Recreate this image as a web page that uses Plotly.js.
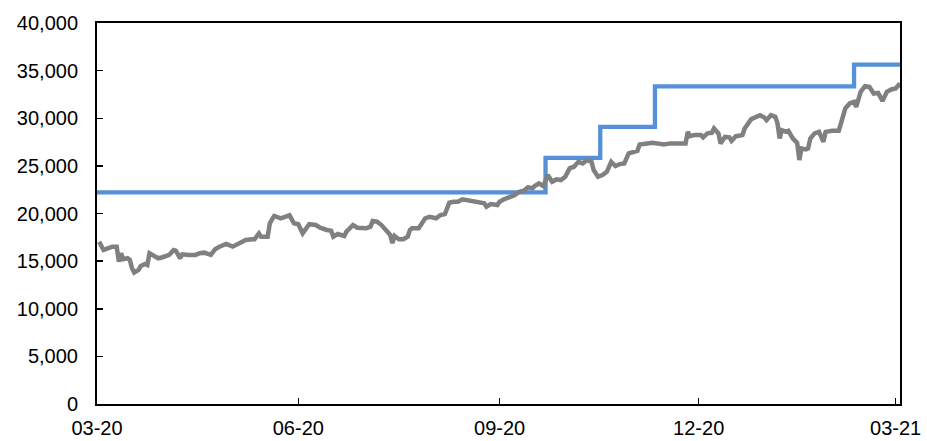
<!DOCTYPE html>
<html>
<head>
<meta charset="utf-8">
<script src="https://cdn.plot.ly/plotly-3.0.1.min.js"></script>
<style>
html,body{margin:0;padding:0;background:#fff;}
#chart{width:927px;height:441px;}
</style>
</head>
<body>
<div id="chart"></div>
<script>
// Grey series (daily level)
const greyDates = [
'2020-03-02','2020-03-04','2020-03-05','2020-03-08','2020-03-10','2020-03-11','2020-03-12','2020-03-13','2020-03-15','2020-03-16',
'2020-03-17','2020-03-18','2020-03-20','2020-03-21','2020-03-23','2020-03-24','2020-03-25','2020-03-27','2020-03-29','2020-03-31',
'2020-04-03','2020-04-05','2020-04-06','2020-04-08','2020-04-09','2020-04-12','2020-04-15','2020-04-17','2020-04-19','2020-04-22',
'2020-04-24','2020-04-26','2020-04-29','2020-05-02','2020-05-04','2020-05-06','2020-05-08','2020-05-11','2020-05-12','2020-05-14',
'2020-05-15','2020-05-18','2020-05-19','2020-05-20','2020-05-21','2020-05-24','2020-05-26','2020-05-28','2020-05-30','2020-06-01',
'2020-06-03','2020-06-04','2020-06-06','2020-06-09','2020-06-11','2020-06-14','2020-06-16','2020-06-17','2020-06-19','2020-06-22',
'2020-06-23','2020-06-26','2020-06-28','2020-07-02','2020-07-04','2020-07-05','2020-07-07','2020-07-09','2020-07-11','2020-07-13',
'2020-07-14','2020-07-15','2020-07-17','2020-07-19','2020-07-21','2020-07-22','2020-07-23','2020-07-26','2020-07-29','2020-07-31',
'2020-08-03','2020-08-05','2020-08-07','2020-08-09','2020-08-11','2020-08-13','2020-08-15','2020-08-18','2020-08-20','2020-08-22',
'2020-08-25','2020-08-26','2020-08-28','2020-08-31','2020-09-01','2020-09-03','2020-09-06','2020-09-08','2020-09-10','2020-09-12',
'2020-09-14','2020-09-16','2020-09-17','2020-09-19','2020-09-21','2020-09-23','2020-09-25','2020-09-27','2020-09-29','2020-10-01',
'2020-10-03','2020-10-05','2020-10-07','2020-10-09','2020-10-11','2020-10-13','2020-10-14','2020-10-16','2020-10-18','2020-10-20',
'2020-10-22','2020-10-24','2020-10-26','2020-10-28','2020-10-30','2020-11-01','2020-11-03','2020-11-04','2020-11-07','2020-11-10',
'2020-11-12','2020-11-15','2020-11-18','2020-11-21','2020-11-25','2020-11-26','2020-11-27','2020-11-29','2020-12-02','2020-12-03',
'2020-12-05','2020-12-07','2020-12-08','2020-12-10','2020-12-11','2020-12-13','2020-12-15','2020-12-16','2020-12-18','2020-12-21',
'2020-12-22','2020-12-25','2020-12-27','2020-12-29','2020-12-31','2021-01-01','2021-01-03','2021-01-05','2021-01-06','2021-01-07',
'2021-01-08','2021-01-10','2021-01-11','2021-01-13','2021-01-15','2021-01-16','2021-01-17','2021-01-19','2021-01-20','2021-01-21',
'2021-01-23','2021-01-25','2021-01-27','2021-01-28','2021-01-31','2021-02-03','2021-02-04','2021-02-06','2021-02-08','2021-02-10',
'2021-02-11','2021-02-13','2021-02-15','2021-02-17','2021-02-19','2021-02-21','2021-02-23','2021-02-25','2021-02-27','2021-03-01',
'2021-03-03'
];
const greyValues = [
17040,16170,16250,16520,16520,14950,15830,15200,15300,15130,
14260,13800,14080,14500,14710,14600,15830,15550,15300,15410,
15650,16170,16100,15300,15720,15650,15650,15830,15890,15650,
16250,16520,16800,16520,16770,16940,17220,17300,17300,17920,
17570,17570,18970,19390,19740,19500,19600,19810,18970,18870,
17920,18270,18870,18790,18510,18270,18200,17570,17850,17640,
18090,18790,18510,18450,18620,19210,19140,18790,18270,17750,
16880,17640,17300,17300,17570,18270,18450,18450,19500,19660,
19500,19840,19950,21130,21240,21240,21490,21340,21240,21240,
21070,20710,21000,20890,21240,21490,21760,21940,22280,22390,
22750,22640,22880,23170,22880,24040,23330,23580,23510,23860,
24740,24910,25430,25260,25610,25430,24560,23860,24040,24380,
25430,24980,25190,25260,26310,26480,26580,27250,27360,27420,
27360,27250,27360,27360,27360,28570,28120,28230,28230,27990,
28410,28470,28930,28410,27360,28050,27990,27630,28120,28230,
28930,29910,30150,30320,30080,29800,30320,30150,29460,27880,
28750,28570,28680,27880,27420,25610,26830,26730,26830,27880,
28410,28570,27530,28570,28680,28680,29450,31030,31550,31720,
31200,32770,33370,33290,32600,32660,31820,32770,33020,33120,
33650
];
// Blue series (step level)
const blueDates = ['2020-03-01','2020-09-22','2020-10-17','2020-11-11','2021-02-10','2021-03-03'];
const blueValues = [22220,25850,29100,33340,35640,35640];

const xTickVals = ['2020-03-01','2020-06-01','2020-09-01','2020-12-01','2021-03-01'];
const xTickText = ['03-20','06-20','09-20','12-20','03-21'];

const traces = [
  {x: blueDates, y: blueValues, type:'scatter', mode:'lines', line:{shape:'hv', color:'#5590d8', width:4.3}, hoverinfo:'skip'},
  {x: greyDates, y: greyValues, type:'scatter', mode:'lines', line:{color:'#808080', width:4.5}, hoverinfo:'skip'}
];

const layout = {
  width: 927, height: 441,
  margin: {l: 97, r: 27, t: 23, b: 37},
  paper_bgcolor: '#ffffff', plot_bgcolor: '#ffffff',
  showlegend: false,
  font: {family: 'Liberation Sans, Arial, sans-serif', size: 20, color: '#000'},
  xaxis: {
    type: 'date', range: ['2020-03-01','2021-03-03'],
    tickvals: xTickVals, ticktext: xTickText,
    ticks: 'inside', ticklen: 6, tickwidth: 1.5, tickcolor: '#000',
    showgrid: false, zeroline: false,
    showline: true, linecolor: '#000', linewidth: 2, mirror: true,
    ticklabelstandoff: 5,
    tickfont: {size: 20, color: '#000'}
  },
  yaxis: {
    range: [0, 40000], dtick: 5000, tick0: 0, tickformat: ',d',
    ticks: 'inside', ticklen: 6, tickwidth: 1.5, tickcolor: '#000',
    showgrid: false, zeroline: false,
    showline: true, linecolor: '#000', linewidth: 2, mirror: true,
    ticklabelstandoff: 13,
    tickfont: {size: 20, color: '#000'}
  }
};

Plotly.newPlot('chart', traces, layout, {staticPlot: true, displayModeBar: false});
</script>
</body>
</html>
